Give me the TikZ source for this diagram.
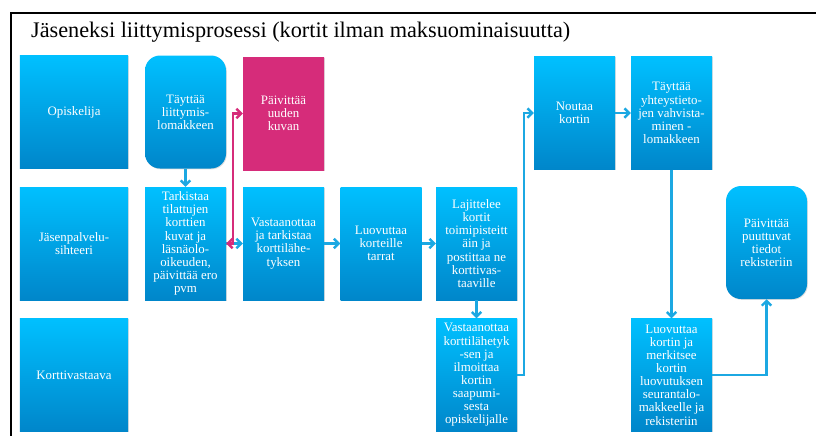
\documentclass[tikz,border=0pt]{standalone}
\usepackage{fontspec}
\setmainfont{Liberation Serif}
\usepackage{xcolor}
\usepackage{tikz}
\usetikzlibrary{arrows.meta,shadows}
\definecolor{boxtop}{RGB}{0,192,255}
\definecolor{boxbottom}{RGB}{0,134,202}
\definecolor{kuvapink}{RGB}{214,44,122}
\definecolor{lineblue}{RGB}{28,168,226}
\tikzstyle{box} = [rectangle, minimum width=2.43cm, minimum height=3.39cm, inner sep=0pt, align=center, text=white, top color=boxtop, bottom color=boxbottom, drop shadow={opacity=0.25,shadow xshift=0.7pt,shadow yshift=-0.7pt}]
\tikzstyle{lane} = [box, minimum width=3.24cm]
\tikzstyle{roundbox} = [box, rounded corners=0.45cm]
\tikzstyle{pinkbox} = [box, fill=kuvapink, top color=kuvapink, bottom color=kuvapink]
\tikzstyle{arrow} = [line width=2pt, ->, >={Straight Barb[length=4pt,width=8pt]}, draw=lineblue]
\tikzstyle{pinkarrow} = [arrow, <->, draw=kuvapink]

\begin{document}
\begin{tikzpicture}[x=0.03cm, y=-0.03cm, every node/.style={font=\fontsize{11}{11.2}\selectfont}]

	\useasboundingbox (0,0) rectangle (816,435);
	\draw [line width=1.6pt] (11,436) -- (11,13) -- (816,13);
	\node (title) [anchor=base west, font=\fontsize{19}{22}\selectfont] at (27,37) {Jäseneksi liittymisprosessi (kortit ilman maksuominaisuutta)};

	\node (opiskelija) [lane] at (74,112) {Opiskelija};
	\node (jasen) [lane] at (74,243.5) {Jäsenpalvelu-\\sihteeri};
	\node (korttivastaava) [lane] at (74,375) {Korttivastaava};

	\node (taytto) [roundbox] at (185.5,112) {Täyttää\\liittymis-\\lomakkeen};
	\node (kuva) [pinkbox] at (283.5,113.5) {Päivittää\\uuden\\kuvan};
	\node (tarkistus) [box] at (185.5,243.5) {Tarkistaa\\tilattujen\\korttien\\kuvat ja\\läsnäolo-\\oikeuden,\\päivittää ero\\pvm};
	\node (vastaanotto) [box] at (283.5,243.5) {Vastaanottaa\\ja tarkistaa\\korttilähe-\\tyksen};
	\node (tarrat) [box] at (381,243.5) {Luovuttaa\\korteille\\tarrat};
	\node (lajittelu) [box] at (476.5,243.5) {Lajittelee\\kortit\\toimipisteitt\\äin ja\\postittaa ne\\korttivas-\\taaville};
	\node (ilmoitus) [box] at (476.5,375) {Vastaanottaa\\korttilähetyk\\-sen ja\\ilmoittaa\\kortin\\saapumi-\\sesta\\opiskelijalle};
	\node (nouto) [box] at (574.5,113) {Noutaa\\kortin};
	\node (yhteystiedot) [box] at (671.5,113) {Täyttää\\yhteystieto-\\jen vahvista-\\minen -\\lomakkeen};
	\node (luovutus) [box] at (671.5,375) {Luovuttaa\\kortin ja\\merkitsee\\kortin\\luovutuksen\\seurantalo-\\makkeelle ja\\rekisteriin};
	\node (rekisteri) [roundbox] at (766.5,242.5) {Päivittää\\puuttuvat\\tiedot\\rekisteriin};

	\draw [arrow] (taytto) -- (tarkistus);
	\draw [arrow] (tarkistus) -- (vastaanotto);
	\draw [pinkarrow] (tarkistus.east) -- ++(7,0) |- (kuva.west);
	\draw [arrow] (vastaanotto) -- (tarrat);
	\draw [arrow] (tarrat) -- (lajittelu);
	\draw [arrow] (lajittelu) -- (ilmoitus);
	\draw [arrow] (ilmoitus.east) -- ++(7,0) |- (nouto.west);
	\draw [arrow] (nouto) -- (yhteystiedot);
	\draw [arrow] (yhteystiedot) -- (luovutus);
	\draw [arrow] (luovutus.east) -| (rekisteri.south);

\end{tikzpicture}
\end{document}
